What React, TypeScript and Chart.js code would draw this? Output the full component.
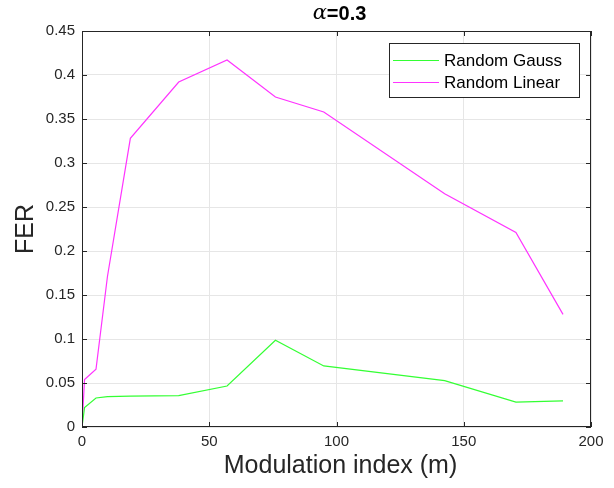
import React, { useEffect, useRef } from "react";
import { Chart, registerables } from "chart.js";

Chart.register(...registerables);

const mValues = [0, 1, 5.5, 10, 19, 38, 57, 76, 95, 142.5, 170.5, 189];
const gaussFER = [0, 0.022, 0.033, 0.0345, 0.035, 0.0356, 0.0466, 0.0986, 0.0694, 0.0527, 0.0283, 0.0296];
const linearFER = [0, 0.054, 0.0656, 0.171, 0.328, 0.392, 0.417, 0.375, 0.358, 0.265, 0.221, 0.128];
const seriesNames = ["Random Gauss", "Random Linear"];
const seriesColors = ["#33ff33", "#ff33ff"];
const xTicks = [0, 50, 100, 150, 200];
const yTicks = [0, 0.05, 0.1, 0.15, 0.2, 0.25, 0.3, 0.35, 0.4, 0.45];
const titleSymbol = "α";
const titleRest = "=0.3";
const xLabel = "Modulation index (m)";
const yLabel = "FER";

const SANS = "'Liberation Sans', Arial, Helvetica, sans-serif";
const AXIS = "#262626";

const decorPlugin = {
  id: "decor",
  afterDraw(chart: any) {
    const ctx = chart.ctx as CanvasRenderingContext2D;
    const a = chart.chartArea;
    const xs = chart.scales.x;
    const ys = chart.scales.y;
    ctx.save();
    // box
    ctx.strokeStyle = AXIS;
    ctx.lineWidth = 1;
    ctx.strokeRect(Math.round(a.left) + 0.5, Math.round(a.top) + 0.5, Math.round(a.right - a.left) - 1, Math.round(a.bottom - a.top) - 1);
    // inner ticks
    const tl = 5;
    ctx.beginPath();
    for (const v of xTicks) {
      const px = Math.round(xs.getPixelForValue(v)) + 0.5;
      ctx.moveTo(px, a.bottom);
      ctx.lineTo(px, a.bottom - tl);
      ctx.moveTo(px, a.top);
      ctx.lineTo(px, a.top + tl);
    }
    for (const v of yTicks) {
      const py = Math.round(ys.getPixelForValue(v)) + 0.5;
      ctx.moveTo(a.left, py);
      ctx.lineTo(a.left + tl, py);
      ctx.moveTo(a.right, py);
      ctx.lineTo(a.right - tl, py);
    }
    ctx.stroke();

    // title
    const cx = (a.left + a.right) / 2;
    ctx.fillStyle = "#000";
    ctx.textBaseline = "middle";
    const symFont = `italic 21px 'DejaVu Serif', serif`;
    const restFont = `bold 20px ${SANS}`;
    ctx.font = symFont;
    const w1 = ctx.measureText(titleSymbol).width;
    ctx.font = restFont;
    const w2 = ctx.measureText(titleRest).width;
    const start = cx + 3 - (w1 + w2) / 2;
    ctx.textAlign = "left";
    ctx.font = symFont;
    ctx.fillText(titleSymbol, start, 14);
    ctx.font = restFont;
    ctx.fillText(titleRest, start + w1, 14);

    // axis labels
    ctx.fillStyle = AXIS;
    ctx.font = `25px ${SANS}`;
    ctx.textAlign = "center";
    ctx.fillText(xLabel, cx + 4, 466);
    ctx.save();
    ctx.translate(26, (a.top + a.bottom) / 2);
    ctx.rotate(-Math.PI / 2);
    ctx.fillText(yLabel, 0, 0);
    ctx.restore();

    // legend
    const lx = 389.5, ly = 43.5, lw = 190, lh = 54;
    ctx.fillStyle = "#fff";
    ctx.fillRect(lx, ly, lw, lh);
    ctx.strokeStyle = AXIS;
    ctx.lineWidth = 1;
    ctx.strokeRect(lx, ly, lw, lh);
    ctx.font = `17px ${SANS}`;
    ctx.textAlign = "left";
    const rows = [60, 82];
    seriesNames.forEach((name, i) => {
      ctx.strokeStyle = seriesColors[i];
      ctx.lineWidth = 1;
      ctx.beginPath();
      ctx.moveTo(393, rows[i] + 0.5);
      ctx.lineTo(439, rows[i] + 0.5);
      ctx.stroke();
      ctx.fillStyle = "#000";
      ctx.fillText(name, 444, rows[i] + 1);
    });
    ctx.restore();
  },
};

export default function App() {
  const ref = useRef<HTMLCanvasElement | null>(null);
  useEffect(() => {
    if (!ref.current) return;
    const chart = new Chart(ref.current, {
      type: "line",
      data: {
        datasets: [
          {
            label: seriesNames[0],
            data: mValues.map((x, i) => ({ x, y: gaussFER[i] })),
            borderColor: seriesColors[0],
            borderWidth: 1.2,
            pointRadius: 0,
            tension: 0,
            fill: false,
          },
          {
            label: seriesNames[1],
            data: mValues.map((x, i) => ({ x, y: linearFER[i] })),
            borderColor: seriesColors[1],
            borderWidth: 1.2,
            pointRadius: 0,
            tension: 0,
            fill: false,
          },
        ],
      },
      options: {
        animation: false,
        responsive: false,
        devicePixelRatio: 1,
        layout: { padding: { top: 31, right: 23, left: 0, bottom: 0 } },
        plugins: {
          legend: { display: false },
          title: { display: false },
          tooltip: { enabled: false },
        },
        scales: {
          x: {
            type: "linear",
            min: 0,
            max: 200,
            afterFit: (s: any) => {
              s.height = 61;
            },
            afterBuildTicks: (s: any) => {
              s.ticks = xTicks.map((v) => ({ value: v }));
            },
            ticks: {
              color: AXIS,
              font: { family: SANS, size: 15 },
              padding: 6,
              maxRotation: 0,
              callback: (v: any) => String(v),
            },
            grid: { color: "#e6e6e6", drawTicks: false },
            border: { display: false },
          },
          y: {
            type: "linear",
            min: 0,
            max: 0.45,
            afterFit: (s: any) => {
              s.width = 82;
            },
            afterBuildTicks: (s: any) => {
              s.ticks = yTicks.map((v) => ({ value: v }));
            },
            ticks: {
              color: AXIS,
              font: { family: SANS, size: 15 },
              padding: 7,
              callback: (v: any) => String(Number(Number(v).toFixed(2))),
            },
            grid: { color: "#e6e6e6", drawTicks: false },
            border: { display: false },
          },
        },
      },
      plugins: [decorPlugin],
    });
    return () => chart.destroy();
  }, []);
  return (
    <div style={{ position: "absolute", left: 0, top: 0, width: 614, height: 488, background: "#fff" }}>
      <canvas ref={ref} width={614} height={488} />
    </div>
  );
}
